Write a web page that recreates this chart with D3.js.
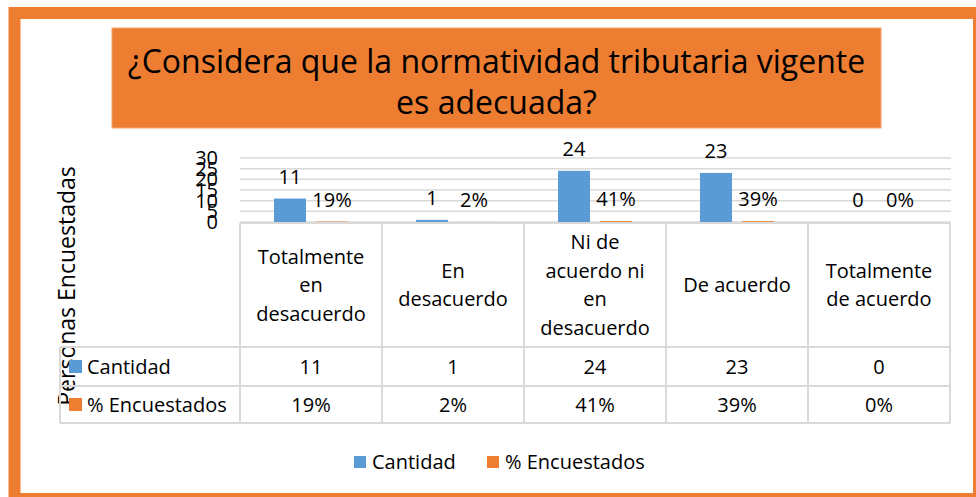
<!DOCTYPE html>
<html>
<head>
<meta charset="utf-8">
<script src="https://cdn.jsdelivr.net/npm/d3@7"></script>
<style>
  body { margin: 0; background: #fff; }
  svg { display: block; font-family: "Open Sans", sans-serif; }
</style>
</head>
<body>
<script>
// datos del grafico
var categorias = ["Totalmente en desacuerdo", "En desacuerdo", "Ni de acuerdo ni en desacuerdo", "De acuerdo", "Totalmente de acuerdo"];
var etiquetasCategorias = ["Totalmente\nen\ndesacuerdo", "En\ndesacuerdo", "Ni de\nacuerdo ni\nen\ndesacuerdo", "De acuerdo", "Totalmente\nde acuerdo"];
var series = ["Cantidad", "% Encuestados"];
var cantidad = [11, 1, 24, 23, 0];
var porcentaje = [0.19, 0.02, 0.41, 0.39, 0];
var ticksY = [0, 5, 10, 15, 20, 25, 30];
var titulo = ["¿Considera que la normatividad tributaria vigente", "es adecuada?"];
var tituloEje = "Personas Encuestadas";

var colores = { "Cantidad": "#5b9bd5", "% Encuestados": "#ed7d31" };
var naranja = "#ed7d31";
var gris = "#d9d9d9";

var vis = {
  width: 976,
  height: 497,
  left: 240,
  right: 950,
  top: 158,
  base: 222,
  filas: [223, 347, 386, 423],
  colIzq: 60,
  letra: 20
};

var formatoPct = d3.format(".0%");

var svg = d3.select("body").append("svg")
  .attr("width", vis.width)
  .attr("height", vis.height);

svg.append("rect")
  .attr("width", vis.width)
  .attr("height", vis.height)
  .attr("fill", "#fff");

// borde naranja del grafico
svg.append("rect")
  .attr("x", 14.5)
  .attr("y", 13)
  .attr("width", 964.5)
  .attr("height", 486)
  .attr("fill", "none")
  .attr("stroke", naranja)
  .attr("stroke-width", 12);

// titulo
svg.append("rect")
  .attr("x", 112)
  .attr("y", 28)
  .attr("width", 769)
  .attr("height", 100)
  .attr("fill", naranja)
  .attr("stroke", "#f4a46f")
  .attr("stroke-width", 1);

svg.selectAll("text.titulo")
  .data(titulo)
  .enter()
  .append("text")
  .attr("class", "titulo")
  .attr("x", 496.5)
  .attr("y", function(d, i) { return 73 + i * 41; })
  .attr("text-anchor", "middle")
  .attr("font-size", 32)
  .attr("fill", "#000")
  .text(function(d) { return d; });

// escalas
var x = d3.scaleBand()
  .domain(categorias)
  .range([vis.left, vis.right]);

var xSerie = d3.scaleBand()
  .domain(series)
  .range([0, x.bandwidth()])
  .paddingInner(0.238)
  .paddingOuter(0.81);

var y = d3.scaleLinear()
  .domain([0, 30])
  .range([vis.base, vis.top]);

// lineas de division
svg.selectAll("line.grid")
  .data(ticksY)
  .enter()
  .append("line")
  .attr("class", "grid")
  .attr("x1", vis.left)
  .attr("x2", vis.right + 1)
  .attr("y1", function(d) { return y(d); })
  .attr("y2", function(d) { return y(d); })
  .attr("stroke", gris)
  .attr("stroke-width", 1.5);

// eje vertical
var ejeY = svg.append("g")
  .attr("transform", "translate(" + (vis.left - 22) + ",0)")
  .call(d3.axisLeft(y).tickValues(ticksY).tickSize(0).tickPadding(0));
ejeY.select(".domain").remove();
ejeY.selectAll("text")
  .attr("font-family", "'Open Sans', sans-serif")
  .attr("font-size", vis.letra)
  .attr("fill", "#000");

svg.append("text")
  .attr("transform", "translate(75,286) rotate(-90)")
  .attr("text-anchor", "middle")
  .attr("font-size", 23)
  .attr("fill", "#000")
  .text(tituloEje);

// barras
var datos = [];
categorias.forEach(function(c, i) {
  datos.push({ cat: c, serie: "Cantidad", valor: cantidad[i], texto: String(cantidad[i]) });
  datos.push({ cat: c, serie: "% Encuestados", valor: porcentaje[i], texto: formatoPct(porcentaje[i]) });
});

svg.selectAll("rect.barra")
  .data(datos)
  .enter()
  .append("rect")
  .attr("class", "barra")
  .attr("x", function(d) { return x(d.cat) + xSerie(d.serie); })
  .attr("y", function(d) { return y(d.valor); })
  .attr("width", xSerie.bandwidth())
  .attr("height", function(d) { return vis.base - y(d.valor); })
  .attr("fill", function(d) { return colores[d.serie]; });

svg.selectAll("text.etiqueta")
  .data(datos)
  .enter()
  .append("text")
  .attr("class", "etiqueta")
  .attr("x", function(d) { return x(d.cat) + xSerie(d.serie) + xSerie.bandwidth() / 2; })
  .attr("y", function(d) { return y(d.valor) - 22; })
  .attr("dy", "0.35em")
  .attr("text-anchor", "middle")
  .attr("font-size", vis.letra)
  .attr("fill", "#000")
  .text(function(d) { return d.texto; });

// tabla de datos
var tabla = svg.append("g")
  .attr("stroke", gris)
  .attr("stroke-width", 2)
  .attr("fill", "none");

tabla.append("line")
  .attr("x1", vis.left).attr("x2", vis.right)
  .attr("y1", vis.filas[0]).attr("y2", vis.filas[0]);
vis.filas.slice(1).forEach(function(f) {
  tabla.append("line")
    .attr("x1", vis.colIzq).attr("x2", vis.right)
    .attr("y1", f).attr("y2", f);
});
tabla.append("line")
  .attr("x1", vis.colIzq).attr("x2", vis.colIzq)
  .attr("y1", vis.filas[1]).attr("y2", vis.filas[3]);
categorias.concat([null]).forEach(function(c) {
  var xx = c === null ? vis.right : x(c);
  tabla.append("line")
    .attr("x1", xx).attr("x2", xx)
    .attr("y1", vis.filas[0]).attr("y2", vis.filas[3]);
});

// encabezados de categoria
var alto = 28.5;
var encabezados = svg.selectAll("text.cat")
  .data(categorias)
  .enter()
  .append("text")
  .attr("class", "cat")
  .attr("text-anchor", "middle")
  .attr("font-size", vis.letra)
  .attr("fill", "#000");

encabezados.each(function(c, i) {
  var lineas = etiquetasCategorias[i].split("\n");
  var y0 = (vis.filas[0] + vis.filas[1]) / 2 - (lineas.length - 1) * alto / 2;
  d3.select(this).selectAll("tspan")
    .data(lineas)
    .enter()
    .append("tspan")
    .attr("x", x(c) + x.bandwidth() / 2)
    .attr("y", function(d, j) { return y0 + j * alto; })
    .attr("dy", "0.35em")
    .text(function(d) { return d; });
});

// filas de valores
var valoresFila = [cantidad.map(String), porcentaje.map(formatoPct)];
series.forEach(function(s, k) {
  var yc = (vis.filas[k + 1] + vis.filas[k + 2]) / 2;
  svg.append("rect")
    .attr("x", 69)
    .attr("y", yc - 6.5)
    .attr("width", 13)
    .attr("height", 13)
    .attr("fill", colores[s]);
  svg.append("text")
    .attr("x", 87)
    .attr("y", yc)
    .attr("dy", "0.35em")
    .attr("font-size", vis.letra)
    .attr("fill", "#000")
    .text(s);
  svg.selectAll("text.valor" + k)
    .data(valoresFila[k])
    .enter()
    .append("text")
    .attr("class", "valor" + k)
    .attr("x", function(d, i) { return x(categorias[i]) + x.bandwidth() / 2; })
    .attr("y", yc)
    .attr("dy", "0.35em")
    .attr("text-anchor", "middle")
    .attr("font-size", vis.letra)
    .attr("fill", "#000")
    .text(function(d) { return d; });
});

// leyenda
var leyenda = svg.selectAll("g.leyenda")
  .data(series)
  .enter()
  .append("g")
  .attr("class", "leyenda")
  .attr("transform", function(d, i) { return "translate(" + (354 + i * 133) + ",462)"; });

leyenda.append("rect")
  .attr("x", 0)
  .attr("y", -6)
  .attr("width", 12)
  .attr("height", 12)
  .attr("fill", function(d) { return colores[d]; });

leyenda.append("text")
  .attr("x", 18)
  .attr("dy", "0.35em")
  .attr("font-size", vis.letra)
  .attr("fill", "#000")
  .text(function(d) { return d; });
</script>
</body>
</html>
